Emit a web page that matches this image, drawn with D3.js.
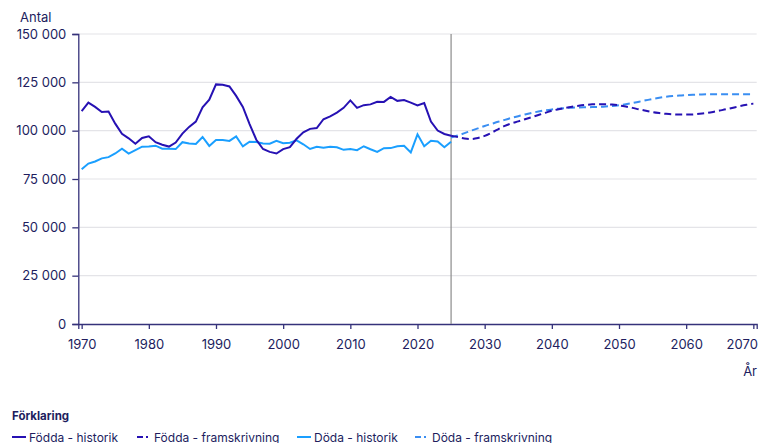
<!DOCTYPE html>
<html>
<head>
<meta charset="utf-8">
<script src="https://cdn.jsdelivr.net/npm/d3@7"></script>
<style>
  body { margin: 0; background: #fff; }
  svg { font-family: Inter, "Noto Sans", sans-serif; }
</style>
</head>
<body>
<div id="container"></div>
<script>
// historic years and projection years
let histYears = d3.range(1970, 2026);
let projYears = d3.range(2025, 2071);

// Födda - historik
let bornHist = [110150, 114484, 112273, 109663, 109874, 103632, 98345, 96057, 93248, 96255,
  97064, 94065, 92748, 91780, 93874, 98463, 101950, 104699, 112080, 116023,
  123938, 123737, 122848, 117998, 112257, 103422, 95297, 90502, 89028, 88173,
  90441, 91466, 95815, 99157, 100928, 101346, 105913, 107421, 109301, 111801,
  115641, 111770, 113177, 113593, 114907, 114870, 117425, 115416, 115832, 114523,
  113077, 114263, 104734, 100051, 98300, 97400];

// Döda - historik
let deadHist = [80026, 82988, 84071, 85678, 86316, 88208, 90711, 88137, 89915, 91720,
  91800, 92236, 90644, 90656, 90467, 94032, 93313, 93104, 96743, 92110,
  95161, 95202, 94710, 97008, 91844, 94307, 94133, 93326, 93271, 94726,
  93461, 93752, 95009, 92961, 90532, 91710, 91177, 91729, 91449, 90080,
  90487, 89938, 91938, 90402, 88976, 90907, 90982, 91972, 92185, 88766,
  98124, 91958, 94737, 94385, 91400, 94300];

// Födda - framskrivning
let bornProj = [97400, 96700, 96000, 95700, 96200, 97300, 98900, 100700, 102500, 103800,
  104800, 105900, 107000, 108100, 109200, 110300, 111100, 111800, 112400, 112900,
  113300, 113600, 113700, 113700, 113500, 113100, 112500, 111800, 111000, 110300,
  109600, 109100, 108700, 108400, 108300, 108300, 108400, 108700, 109100, 109700,
  110400, 111100, 111900, 112700, 113400, 114000];

// Döda - framskrivning
let deadProj = [96500, 97500, 98700, 100000, 101200, 102400, 103500, 104600, 105600, 106600,
  107500, 108400, 109200, 109900, 110500, 111000, 111400, 111700, 111900, 112000,
  112100, 112200, 112300, 112500, 112800, 113200, 113700, 114300, 115000, 115700,
  116400, 117000, 117500, 117900, 118200, 118400, 118600, 118700, 118800, 118800,
  118800, 118800, 118800, 118800, 118800, 118800];

let yTicks = [0, 25000, 50000, 75000, 100000, 125000, 150000];
let xTicks = [1970, 1980, 1990, 2000, 2010, 2020, 2030, 2040, 2050, 2060, 2070];
let splitYear = 2025;

let seriesNames = ["Födda - historik", "Födda - framskrivning", "Döda - historik", "Döda - framskrivning"];

let bornColor = "#2611b3";
let deadColor = "#1a9fff";
let deadProjColor = "#3a8ef2";
let textColor = "#211d5e";
let axisColor = "#35327a";

let width = 760, height = 443;
let plotLeft = 78.3, plotRight = 756.7, plotTop = 34, plotBottom = 324;

let svg = d3.select('#container')
  .append("svg")
  .attr("width", width)
  .attr("height", height);

let x = d3.scaleLinear().domain([1969.5, 2070.5]).range([plotLeft, plotRight]);
let y = d3.scaleLinear().domain([0, 150000]).range([plotBottom, plotTop]);

let fmt = v => d3.format(",")(v).replace(/,/g, " ");

// grid
svg.append("g")
  .selectAll("line")
  .data(yTicks.filter(d => d > 0))
  .enter()
  .append("line")
  .attr("x1", plotLeft)
  .attr("x2", plotRight)
  .attr("y1", d => y(d))
  .attr("y2", d => y(d))
  .attr("stroke", "#e4e4e8")
  .attr("stroke-width", 1.2);

// y axis
let yAxis = svg.append("g")
  .attr("transform", `translate(${plotLeft},0)`)
  .call(d3.axisLeft(y).tickValues(yTicks).tickFormat(fmt).tickSize(6).tickPadding(6));
yAxis.select(".domain").attr("stroke", axisColor).attr("stroke-width", 1.3);
yAxis.selectAll(".tick line").attr("stroke", axisColor).attr("stroke-width", 1.3);
yAxis.selectAll("text").attr("fill", textColor).attr("font-size", 13).attr("font-family", "Inter");

// x axis
let xAxis = svg.append("g")
  .attr("transform", `translate(0,${plotBottom})`)
  .call(d3.axisBottom(x).tickValues(xTicks).tickFormat(d3.format("d")).tickSize(5).tickPadding(11));
xAxis.select(".domain").attr("stroke", axisColor).attr("stroke-width", 1.3);
xAxis.selectAll(".tick line").attr("stroke", axisColor).attr("stroke-width", 1.3);
xAxis.selectAll("text").attr("fill", textColor).attr("font-size", 13).attr("font-family", "Inter");
// keep the last label inside the picture
xAxis.selectAll(".tick text")
  .filter(d => d === 2070)
  .attr("text-anchor", "end")
  .attr("dx", 4);

// axis titles
svg.append("text")
  .attr("x", 20).attr("y", 22)
  .attr("fill", textColor).attr("font-size", 13)
  .text("Antal");
svg.append("text")
  .attr("x", 757).attr("y", 376)
  .attr("text-anchor", "end")
  .attr("fill", textColor).attr("font-size", 13)
  .text("År");

// split line
svg.append("line")
  .attr("x1", x(splitYear)).attr("x2", x(splitYear))
  .attr("y1", plotTop).attr("y2", plotBottom)
  .attr("stroke", "#8c8c8c")
  .attr("stroke-width", 1.2);

let line = d3.line()
  .x(d => x(d[0]))
  .y(d => y(d[1]));

let smooth = d3.line()
  .curve(d3.curveMonotoneX)
  .x(d => x(d[0]))
  .y(d => y(d[1]));

// lines
svg.append("path")
  .datum(histYears.map((yr, i) => [yr, deadHist[i]]))
  .attr("d", line)
  .attr("fill", "none")
  .attr("stroke", deadColor)
  .attr("stroke-width", 2);

svg.append("path")
  .datum(histYears.map((yr, i) => [yr, bornHist[i]]))
  .attr("d", line)
  .attr("fill", "none")
  .attr("stroke", bornColor)
  .attr("stroke-width", 2);

svg.append("path")
  .datum(projYears.map((yr, i) => [yr, deadProj[i]]))
  .attr("d", smooth)
  .attr("fill", "none")
  .attr("stroke", deadProjColor)
  .attr("stroke-width", 2)
  .attr("stroke-dasharray", "7,4");

svg.append("path")
  .datum(projYears.map((yr, i) => [yr, bornProj[i]]))
  .attr("d", smooth)
  .attr("fill", "none")
  .attr("stroke", bornColor)
  .attr("stroke-width", 2)
  .attr("stroke-dasharray", "7,4");

// legend
svg.append("text")
  .attr("x", 12).attr("y", 420)
  .attr("fill", textColor).attr("font-size", 11.5).attr("font-weight", 700)
  .text("Förklaring");

let legendItems = [
  {name: seriesNames[0], color: bornColor, dash: null, x: 12},
  {name: seriesNames[1], color: bornColor, dash: "6,3,2,3", x: 137},
  {name: seriesNames[2], color: deadColor, dash: null, x: 297},
  {name: seriesNames[3], color: deadProjColor, dash: "6,3,2,3", x: 415}
];

let lg = svg.append("g")
  .selectAll("g")
  .data(legendItems)
  .enter()
  .append("g")
  .attr("transform", d => `translate(${d.x},437)`);

lg.append("line")
  .attr("x1", 0).attr("x2", 14)
  .attr("y1", 0).attr("y2", 0)
  .attr("stroke", d => d.color)
  .attr("stroke-width", 2)
  .attr("stroke-dasharray", d => d.dash);

lg.append("text")
  .attr("x", 17).attr("y", 4.5)
  .attr("fill", textColor).attr("font-size", 12)
  .text(d => d.name);
</script>
</body>
</html>
